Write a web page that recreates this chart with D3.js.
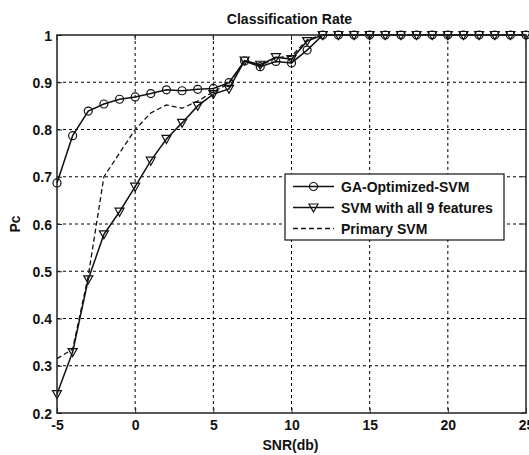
<!DOCTYPE html>
<html>
<head>
<meta charset="utf-8">
<script src="https://cdn.jsdelivr.net/npm/d3@7"></script>
<style>
  html, body { margin: 0; padding: 0; background: #fff; }
  svg { display: block; }
  text { font-family: "Liberation Sans", Arial, sans-serif; font-weight: bold; fill: #111; }
</style>
</head>
<body>
<svg id="chart" width="529" height="455"></svg>
<script>
// SNR values (dB) at which each classifier was evaluated
const snr = [-5, -4, -3, -2, -1, 0, 1, 2, 3, 4, 5, 6, 7, 8, 9, 10, 11, 12,
             13, 14, 15, 16, 17, 18, 19, 20, 21, 22, 23, 24, 25];

// Probability of correct classification per classifier
const gaOptimizedSvm = [0.687, 0.787, 0.839, 0.854, 0.864, 0.869, 0.876, 0.884, 0.882, 0.885,
                        0.887, 0.899, 0.945, 0.933, 0.944, 0.941, 0.968, 1, 1, 1,
                        1, 1, 1, 1, 1, 1, 1, 1, 1, 1, 1];
const svmAllFeatures = [0.240, 0.329, 0.483, 0.578, 0.626, 0.679, 0.734, 0.780, 0.814, 0.850,
                        0.875, 0.886, 0.946, 0.937, 0.953, 0.949, 0.987, 1, 1, 1,
                        1, 1, 1, 1, 1, 1, 1, 1, 1, 1, 1];
const primarySvm = [0.315, 0.335, 0.490, 0.700, 0.750, 0.800, 0.835, 0.852, 0.845, 0.860,
                    0.880, 0.897, 0.945, 0.935, 0.952, 0.955, 0.990, 1, 1, 1,
                    1, 1, 1, 1, 1, 1, 1, 1, 1, 1, 1];

const seriesNames = ["GA-Optimized-SVM", "SVM with all 9 features", "Primary SVM"];
const xTicks = [-5, 0, 5, 10, 15, 20, 25];
const yTicks = [0.2, 0.3, 0.4, 0.5, 0.6, 0.7, 0.8, 0.9, 1];

const titleText = "Classification Rate";
const xLabel = "SNR(db)";
const yLabel = "Pc";

const svg = d3.select("#chart");
const pL = 57, pR = 526, pT = 35, pB = 413;

const x = d3.scaleLinear().domain([-5, 25]).range([pL, pR]);
const y = d3.scaleLinear().domain([0.2, 1]).range([pB, pT]);

// dotted grid
const grid = svg.append("g").attr("stroke", "#000").attr("stroke-width", 1)
  .attr("stroke-dasharray", "3,3").attr("fill", "none");
xTicks.slice(1, -1).forEach(t => {
  grid.append("line").attr("x1", x(t)).attr("x2", x(t)).attr("y1", pT).attr("y2", pB);
});
yTicks.slice(1, -1).forEach(t => {
  grid.append("line").attr("y1", y(t)).attr("y2", y(t)).attr("x1", pL).attr("x2", pR);
});

// axes with inward ticks (plain hyphen for negatives)
const xAxis = d3.axisBottom(x).tickValues(xTicks).tickSizeInner(-5).tickSizeOuter(0).tickPadding(10)
  .tickFormat(d => String(d));
const yAxis = d3.axisLeft(y).tickValues(yTicks).tickSizeInner(-5).tickSizeOuter(0).tickPadding(5)
  .tickFormat(d => d === 1 ? "1" : d.toFixed(1));

const gx = svg.append("g").attr("transform", `translate(0,${pB})`).call(xAxis);
const gy = svg.append("g").attr("transform", `translate(${pL},0)`).call(yAxis);
[gx, gy].forEach(g => {
  g.select(".domain").remove();
  g.selectAll(".tick line").attr("stroke", "#222").attr("stroke-width", 1);
  g.selectAll(".tick text").style("font-size", "14px").style("font-family", "Liberation Sans, Arial, sans-serif")
    .style("font-weight", "bold").attr("fill", "#111");
});
gy.selectAll(".tick text").attr("dy", "0.36em");
gx.selectAll(".tick text").attr("dy", "0.71em").attr("y", 7);

// top & right ticks
const mirror = svg.append("g").attr("stroke", "#222").attr("stroke-width", 1);
xTicks.forEach(t => mirror.append("line").attr("x1", x(t)).attr("x2", x(t)).attr("y1", pT).attr("y2", pT + 5));
yTicks.forEach(t => mirror.append("line").attr("x1", pR).attr("x2", pR - 5).attr("y1", y(t)).attr("y2", y(t)));

// data series
const line = data => d3.line().x((d, i) => x(snr[i])).y(d => y(d))(data);

svg.append("path").attr("d", line(primarySvm)).attr("fill", "none")
  .attr("stroke", "#111").attr("stroke-width", 1.3).attr("stroke-dasharray", "5,3");

svg.append("path").attr("d", line(svmAllFeatures)).attr("fill", "none")
  .attr("stroke", "#111").attr("stroke-width", 1.5);
svg.append("path").attr("d", line(gaOptimizedSvm)).attr("fill", "none")
  .attr("stroke", "#111").attr("stroke-width", 1.5);

const triPath = "M-4.5,-3.5L4.5,-3.5L0,4.5Z";

svg.append("g").selectAll("path").data(svmAllFeatures).join("path")
  .attr("transform", (d, i) => `translate(${x(snr[i])},${y(d)})`)
  .attr("d", triPath).attr("fill", "none").attr("stroke", "#111").attr("stroke-width", 1.2);

svg.append("g").selectAll("circle").data(gaOptimizedSvm).join("circle")
  .attr("cx", (d, i) => x(snr[i])).attr("cy", d => y(d)).attr("r", 4)
  .attr("fill", "none").attr("stroke", "#111").attr("stroke-width", 1.2);

// axes box
svg.append("rect").attr("x", pL).attr("y", pT).attr("width", pR - pL).attr("height", pB - pT)
  .attr("fill", "none").attr("stroke", "#222").attr("stroke-width", 1.5);

// title and axis labels
svg.append("text").attr("x", (pL + pR) / 2 - 2).attr("y", 23.5).attr("text-anchor", "middle")
  .style("font-size", "14px").text(titleText);
svg.append("text").attr("x", (pL + pR) / 2 - 1).attr("y", 449.5).attr("text-anchor", "middle")
  .style("font-size", "14px").text(xLabel);
svg.append("text").attr("transform", `translate(20,${(pT + pB) / 2}) rotate(-90)`)
  .attr("text-anchor", "middle").style("font-size", "14px").text(yLabel);

// legend
const lg = svg.append("g");
lg.append("rect").attr("x", 285).attr("y", 174).attr("width", 219).attr("height", 66)
  .attr("fill", "#fff").attr("stroke", "#111").attr("stroke-width", 1.2);
const rowY = [186.5, 207.5, 228.5];
const lx1 = 293, lx2 = 334, lmid = (lx1 + lx2) / 2;
lg.append("line").attr("x1", lx1).attr("x2", lx2).attr("y1", rowY[0]).attr("y2", rowY[0])
  .attr("stroke", "#111").attr("stroke-width", 1.5);
lg.append("circle").attr("cx", lmid).attr("cy", rowY[0]).attr("r", 4)
  .attr("fill", "none").attr("stroke", "#111").attr("stroke-width", 1.2);
lg.append("line").attr("x1", lx1).attr("x2", lx2).attr("y1", rowY[1]).attr("y2", rowY[1])
  .attr("stroke", "#111").attr("stroke-width", 1.5);
lg.append("path").attr("transform", `translate(${lmid},${rowY[1]})`).attr("d", triPath)
  .attr("fill", "none").attr("stroke", "#111").attr("stroke-width", 1.2);
lg.append("line").attr("x1", lx1).attr("x2", lx2).attr("y1", rowY[2]).attr("y2", rowY[2])
  .attr("stroke", "#111").attr("stroke-width", 1.3).attr("stroke-dasharray", "5,3");
seriesNames.forEach((name, i) => {
  lg.append("text").attr("x", 341).attr("y", rowY[i]).attr("dy", "0.36em")
    .style("font-size", "14px").text(name);
});
</script>
</body>
</html>
